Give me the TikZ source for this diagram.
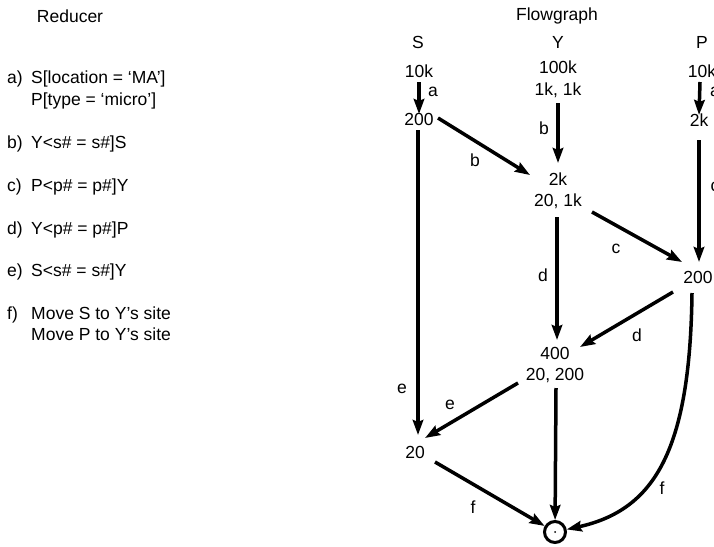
\documentclass[tikz,border=0pt]{standalone}
\usepackage{fontspec}
\setmainfont{Liberation Sans}
\usetikzlibrary{arrows.meta}
\begin{document}
\begin{tikzpicture}[x=1pt,y=-1pt,
  every node/.style={font=\fontsize{17.5}{20}\selectfont, inner sep=1pt, text height=12.5pt, text depth=0pt},
  txt/.style={anchor=west},
  flow/.style={line width=3.5pt, -{Stealth[length=15pt,width=10.5pt,inset=2pt]}},
  lbl/.style={}]
\clip (0,0) rectangle (714,546);
\fill[white] (0,0) rectangle (714,546);

% Reducer column
\node (red) at (70,16) {Reducer};
\node[txt] (ra) at (6,77) {a)};
\node[txt] (ra1) at (30,77) {S[location = ‘MA’]};
\node[txt] (ra2) at (30,99) {P[type = ‘micro’]};
\node[txt] (rb) at (6,142) {b)};
\node[txt] (rb1) at (30,142) {Y<s\# = s\#]S};
\node[txt] (rc) at (6,185) {c)};
\node[txt] (rc1) at (30,185) {P<p\# = p\#]Y};
\node[txt] (rd) at (6,228) {d)};
\node[txt] (rd1) at (30,228) {Y<p\# = p\#]P};
\node[txt] (re) at (6,270) {e)};
\node[txt] (re1) at (30,270) {S<s\# = s\#]Y};
\node[txt] (rf) at (6,313) {f)};
\node[txt] (rf1) at (30,313) {Move S to Y’s site};
\node[txt] (rf2) at (30,334) {Move P to Y’s site};

% Flowgraph
\node (fg) at (557,14) {Flowgraph};
\node (S) at (418,42) {S};
\node (Y) at (558,42) {Y};
\node (P) at (702,42) {P};

\node (s10k) at (419,71) {10k};
\node (s200) at (419,119) {200};
\node (s20) at (415,452) {20};

\node (y100k) at (558,67) {100k};
\node (y1k) at (558,89) {1k, 1k};
\node (y2k) at (558,179) {2k};
\node (y20) at (558,200) {20, 1k};

\node (p10k) at (702,71) {10k};
\node (p2k) at (699,120) {2k};
\node (p200) at (698,277) {200};

\node (m400) at (555,353) {400};
\node (m20) at (555,374) {20, 200};

\node[draw, circle, line width=3pt, minimum size=21pt, inner sep=0pt] (res) at (555,532) {};
\fill (res.center) circle (1pt);

% connectors
\draw[flow] ([shift={(0,11)}]s10k.center) -- ([shift={(0,-5)}]s200.center);
\node at (433,90) {a};
\draw[flow] ([shift={(-2,11)}]p10k.center) -- ([shift={(0,-5)}]p2k.center);
\node at (715,90) {a};

\draw[flow] ([shift={(19,-1)}]s200.center) -- ([shift={(-28,-4)}]y2k.center);
\node at (475,160) {b};
\draw[flow] ([shift={(0,14)}]y1k.center) -- ([shift={(0,-16)}]y2k.center);
\node at (544,128) {b};

\draw[flow] ([shift={(34,12)}]y20.center) -- ([shift={(-16,-15)}]p200.center);
\node at (616,247) {c};
\draw[flow] ([shift={(0,20)}]p2k.center) -- ([shift={(1,-15)}]p200.center);
\node at (715,185) {c};

\draw[flow] ([shift={(-1,17)}]y20.center) -- ([shift={(2,-13)}]m400.center);
\node at (543,275) {d};
\draw[flow] ([shift={(-25,15)}]p200.center) -- ([shift={(25,-6)}]m400.center);
\node at (637,335) {d};

\draw[flow] ([shift={(-1,11)}]s200.center) -- ([shift={(3,-17)}]s20.center);
\node at (402,387) {e};
\draw[flow] ([shift={(-37,9)}]m20.center) -- ([shift={(10,-14)}]s20.center);
\node at (450,403) {e};

\draw[flow] ([shift={(20,10)}]s20.center) -- (res);
\node at (473,507) {f};
\draw[flow] ([shift={(1,14)}]m20.center) -- (res);
\draw[flow] ([shift={(-6,16)}]p200.center) .. controls (690,450) and (655,510) .. (res);
\node at (662,488) {f};
\end{tikzpicture}
\end{document}
